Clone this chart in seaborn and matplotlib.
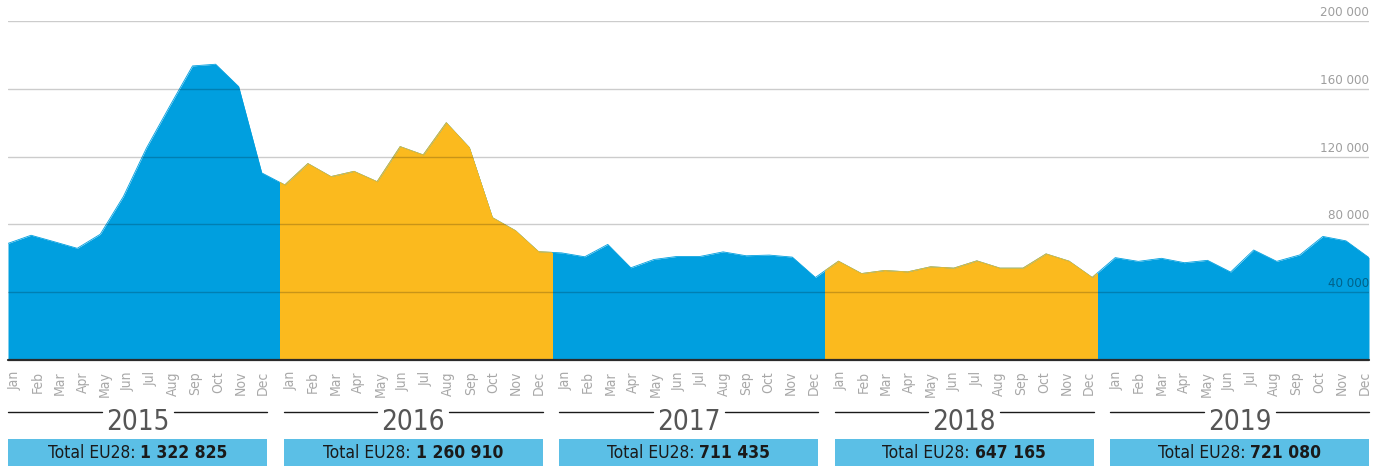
import numpy as np
import pandas as pd
import matplotlib.pyplot as plt
import seaborn as sns
from matplotlib.patches import Rectangle
from matplotlib.lines import Line2D
from matplotlib.transforms import blended_transform_factory, ScaledTranslation

years = ['2015', '2016', '2017', '2018', '2019']
months = ['Jan', 'Feb', 'Mar', 'Apr', 'May', 'Jun',
          'Jul', 'Aug', 'Sep', 'Oct', 'Nov', 'Dec']
totals = ['1 322 825', '1 260 910', '711 435', '647 165', '721 080']

v2015 = [68800, 73600, 69800, 65900, 74200, 96400,
         125000, 149500, 173500, 174500, 161300, 110400]
v2016 = [103300, 115900, 108200, 111300, 105200, 125900,
         121000, 140000, 125300, 84000, 76300, 63900]
v2017 = [63200, 60900, 68200, 54400, 59300, 61100,
         61100, 63800, 61500, 61900, 60700, 48700]
v2018 = [58300, 51000, 52800, 52000, 55000, 54200,
         58500, 54200, 54200, 62600, 58300, 48700]
v2019 = [60400, 58200, 60000, 57400, 58800, 51900,
         64900, 58200, 62000, 72900, 70300, 60400]
yticks = [40000, 80000, 120000, 160000, 200000]

BLUE = '#009fdf'
YELLOW = '#fbba1e'
BOX = '#5bbfe6'

df = pd.DataFrame({
    'idx': np.arange(60),
    'value': v2015 + v2016 + v2017 + v2018 + v2019,
})

sns.set_theme(style='white')
plt.rcParams['font.family'] = ['DejaVu Sans']
plt.rcParams['font.stretch'] = 'condensed'

W, H = 1383, 466
fig = plt.figure(figsize=(W / 100, H / 100), dpi=100)
ax = fig.add_axes([8 / W, 106 / H, 1361 / W, 339 / H])
ax.set_xlim(0, 59)
ax.set_ylim(0, 200000)

seg = 59 / 5  # each year gets an equal slice of the axis

ax.fill_between(df['idx'], df['value'], color=BLUE, lw=0, zorder=1)
sns.lineplot(data=df, x='idx', y='value', color=BLUE, lw=0.6, ax=ax, zorder=1)
for k in (1, 3):
    clip = Rectangle((k * seg, 0), seg, 200000, transform=ax.transData)
    poly = ax.fill_between(df['idx'], df['value'], color=YELLOW, lw=0, zorder=2)
    poly.set_clip_path(clip)
    ln, = ax.plot(df['idx'], df['value'], color=YELLOW, lw=0.6, zorder=2)
    ln.set_clip_path(clip)

ytr = blended_transform_factory(ax.transAxes, ax.transData)
for v in yticks:
    ax.axhline(v, color='black', alpha=0.2, lw=1, zorder=3)
    ax.annotate(f'{v:,}'.replace(',', ' '), xy=(1, v), xycoords=ytr,
                xytext=(0, 1.5), textcoords='offset points',
                ha='right', va='bottom', fontsize=9.5, color='black', alpha=0.38)
ax.axhline(0, color='#2b2b2b', lw=1.6, zorder=4, clip_on=False)

for s in ax.spines.values():
    s.set_visible(False)
ax.set_yticks([])
ax.set_xlabel('')
ax.set_ylabel('')

# month labels: 12 per year, grouped with a small gap between years
px_per_idx = 1361 / 59
tick_px = [15 + 275.3 * k + 22.55 * m for k in range(5) for m in range(12)]
ax.set_xticks([(p - 8) / px_per_idx for p in tick_px])
ax.set_xticklabels(months * 5, rotation=90, color='#a8a8a8', fontsize=10)
ax.tick_params(axis='x', length=0, pad=8)


def fx(px):
    return px / W


def fy(px):
    return 1 - px / H


pairs = []
for k, (yr, tot) in enumerate(zip(years, totals)):
    x0 = 8 + 275.5 * k
    x1 = x0 + 259
    mid = (x0 + x1) / 2
    for a, b in ((x0, mid - 36), (mid + 36, x1)):
        fig.add_artist(Line2D([fx(a), fx(b)], [fy(411.5), fy(411.5)],
                              transform=fig.transFigure, color='#1a1a1a', lw=1))
    fig.text(fx(mid), fy(422.5), yr, ha='center', va='center',
             fontsize=20, color='#555555')
    fig.add_artist(Rectangle((fx(x0), 0), fx(x1 - x0), (H - 439) / H,
                             transform=fig.transFigure, color=BOX, lw=0))
    t1 = fig.text(fx(mid), fy(453), 'Total EU28: ', ha='right', va='center',
                  fontsize=12.5, color='#1a1a1a')
    t2 = fig.text(fx(mid), fy(453), tot, ha='left', va='center',
                  fontsize=12.5, fontweight='bold', color='#1a1a1a')
    pairs.append((t1, t2))

# centre the two-part box labels
fig.canvas.draw()
r = fig.canvas.get_renderer()
for t1, t2 in pairs:
    w1 = t1.get_window_extent(r).width
    w2 = t2.get_window_extent(r).width
    off = ScaledTranslation((w1 - w2) / 2 / fig.dpi, 0, fig.dpi_scale_trans)
    for t in (t1, t2):
        t.set_transform(t.get_transform() + off)

fig.savefig('out.png', dpi=100)
